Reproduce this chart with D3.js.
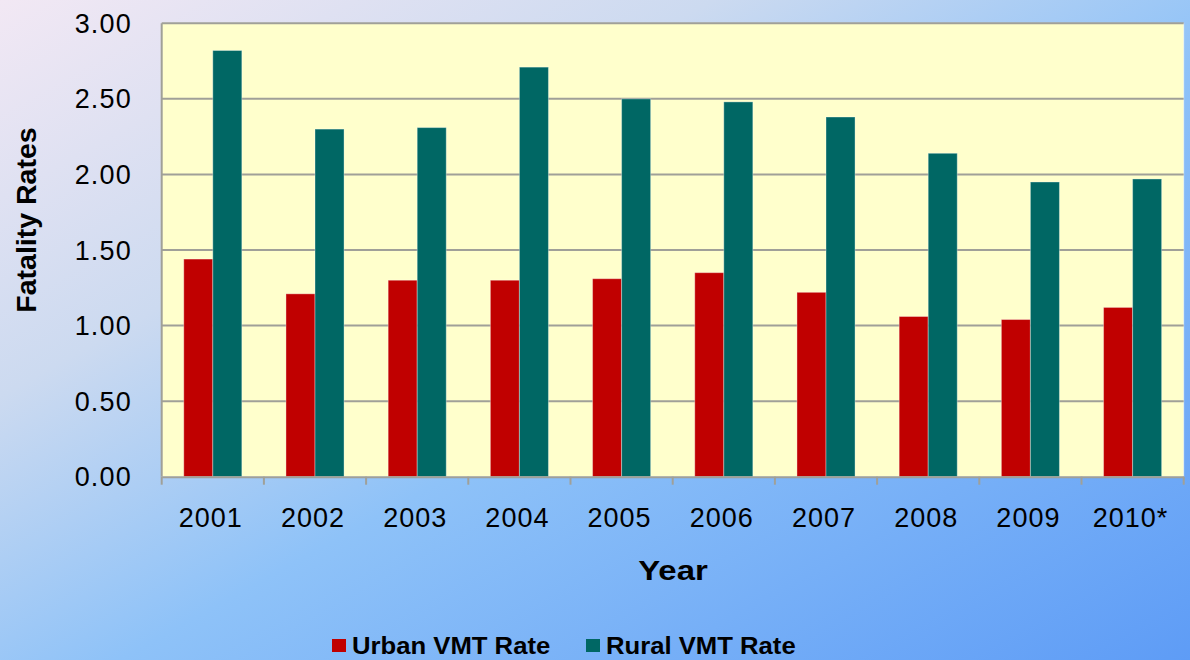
<!DOCTYPE html>
<html>
<head>
<meta charset="utf-8">
<script src="https://cdn.jsdelivr.net/npm/d3@7"></script>
<style>
  body { margin: 0; padding: 0; }
  text { font-family: "Liberation Sans", Arial, sans-serif; fill: #000; }
</style>
</head>
<body>
<div id="chart"></div>
<script>

var years = ["2001", "2002", "2003", "2004", "2005", "2006", "2007", "2008", "2009", "2010*"];
var urbanRates = [1.44, 1.21, 1.30, 1.30, 1.31, 1.35, 1.22, 1.06, 1.04, 1.12];
var ruralRates = [2.82, 2.30, 2.31, 2.71, 2.50, 2.48, 2.38, 2.14, 1.95, 1.97];
var seriesNames = ["Urban VMT Rate", "Rural VMT Rate"];
var seriesColors = ["#C00000", "#006764"];
var yTicks = [0, 0.5, 1, 1.5, 2, 2.5, 3];

var dataset = years.map(function(y, i) {
  return { year: y, values: [urbanRates[i], ruralRates[i]] };
});

function createChart(dataset) {
  var width = 1190;
  var height = 660;
  var plotLeft = 161.7;
  var plotRight = 1183.7;
  var plotTop = 23.3;
  var plotBottom = 476.7;

  var svg = d3.select("#chart")
    .append("svg")
    .attr("width", width)
    .attr("height", height);

  // background gradient
  var defs = svg.append("defs");
  var grad = defs.append("linearGradient")
    .attr("id", "bg")
    .attr("x1", 0).attr("y1", 0)
    .attr("x2", 1).attr("y2", 1);
  grad.append("stop").attr("offset", "0").attr("stop-color", "#F2E8F4");
  grad.append("stop").attr("offset", "0.3").attr("stop-color", "#CCDAF0");
  grad.append("stop").attr("offset", "0.55").attr("stop-color", "#8EC2F8");
  grad.append("stop").attr("offset", "1").attr("stop-color", "#5E9CF6");

  svg.append("rect")
    .attr("width", width)
    .attr("height", height)
    .attr("fill", "url(#bg)");

  var xScale = d3.scaleBand()
    .domain(years)
    .range([plotLeft, plotRight])
    .paddingInner(0)
    .paddingOuter(0);

  var xInner = d3.scaleBand()
    .domain([0, 1])
    .range([0, xScale.bandwidth()])
    .paddingInner(0)
    .paddingOuter(0.76);

  var yScale = d3.scaleLinear()
    .domain([0, 3])
    .range([plotBottom, plotTop]);

  // plot area
  svg.append("rect")
    .attr("x", plotLeft)
    .attr("y", plotTop)
    .attr("width", plotRight - plotLeft)
    .attr("height", plotBottom - plotTop)
    .attr("fill", "#FFFFCC")
    .attr("stroke", "#FFFFFF")
    .attr("stroke-opacity", 0.5);

  // gridlines
  svg.append("g")
    .selectAll("line")
    .data(yTicks.slice(1))
    .enter()
    .append("line")
    .attr("x1", plotLeft)
    .attr("x2", plotRight)
    .attr("y1", function(d) { return yScale(d); })
    .attr("y2", function(d) { return yScale(d); })
    .attr("stroke", "#A0A098")
    .attr("stroke-width", 2);

  // bars
  var groups = svg.append("g")
    .selectAll("g")
    .data(dataset)
    .enter()
    .append("g")
    .attr("transform", function(d) { return "translate(" + xScale(d.year) + ",0)"; });

  groups.selectAll("rect")
    .data(function(d) { return d.values; })
    .enter()
    .append("rect")
    .attr("x", function(d, i) { return xInner(i); })
    .attr("y", function(d) { return yScale(d); })
    .attr("width", xInner.bandwidth())
    .attr("height", function(d) { return plotBottom - yScale(d); })
    .attr("fill", function(d, i) { return seriesColors[i]; })
    .attr("stroke", "#FFFFFF")
    .attr("stroke-opacity", 0.35)
    .attr("stroke-width", 1);

  // left axis line
  svg.append("line")
    .attr("x1", plotLeft).attr("x2", plotLeft)
    .attr("y1", plotTop).attr("y2", plotBottom)
    .attr("stroke", "#A0A098")
    .attr("stroke-width", 2);

  // y tick labels
  svg.append("g")
    .selectAll("text")
    .data(yTicks)
    .enter()
    .append("text")
    .attr("x", 132)
    .attr("y", function(d) { return yScale(d) + 9.5; })
    .attr("text-anchor", "end")
    .style("font-size", "27px")
    .style("letter-spacing", "1.2px")
    .text(function(d) { return d3.format(".2f")(d); });

  // x axis
  var xaxis = svg.append("g")
    .attr("transform", "translate(0," + plotBottom + ")")
    .call(d3.axisBottom(xScale).tickSize(0).tickPadding(0).tickFormat(""));
  xaxis.select(".domain")
    .attr("stroke", "#A0A098")
    .attr("stroke-width", 2);

  svg.append("g")
    .selectAll("line")
    .data(years.concat(["end"]))
    .enter()
    .append("line")
    .attr("x1", function(d) { return d === "end" ? plotRight : xScale(d); })
    .attr("x2", function(d) { return d === "end" ? plotRight : xScale(d); })
    .attr("y1", plotBottom)
    .attr("y2", plotBottom + 8)
    .attr("stroke", "#A0A098")
    .attr("stroke-width", 2);

  svg.append("g")
    .selectAll("text")
    .data(years)
    .enter()
    .append("text")
    .attr("x", function(d) { return xScale(d) + xScale.bandwidth() / 2 - 2; })
    .attr("y", 527)
    .attr("text-anchor", "middle")
    .style("font-size", "27px")
    .style("letter-spacing", "1px")
    .text(function(d) { return d; });

  // axis titles
  svg.append("text")
    .attr("transform", "translate(673,580) scale(1.22,1)")
    .attr("text-anchor", "middle")
    .style("font-size", "27px")
    .style("font-weight", "bold")
    .text("Year");

  svg.append("text")
    .attr("transform", "translate(36,220) rotate(-90)")
    .attr("text-anchor", "middle")
    .style("font-size", "28.5px")
    .style("font-weight", "bold")
    .text("Fatality Rates");

  // legend
  var legendX = [332, 586];
  var legend = svg.append("g")
    .selectAll("g")
    .data(seriesNames)
    .enter()
    .append("g")
    .attr("transform", function(d, i) { return "translate(" + legendX[i] + ",639)"; });

  legend.append("rect")
    .attr("width", 14)
    .attr("height", 13)
    .attr("fill", function(d, i) { return seriesColors[i]; });

  legend.append("text")
    .attr("transform", "translate(20,15) scale(1.07,1)")
    .style("font-size", "24px")
    .style("font-weight", "bold")
    .text(function(d) { return d; });
}

createChart(dataset);

</script>
</body>
</html>
